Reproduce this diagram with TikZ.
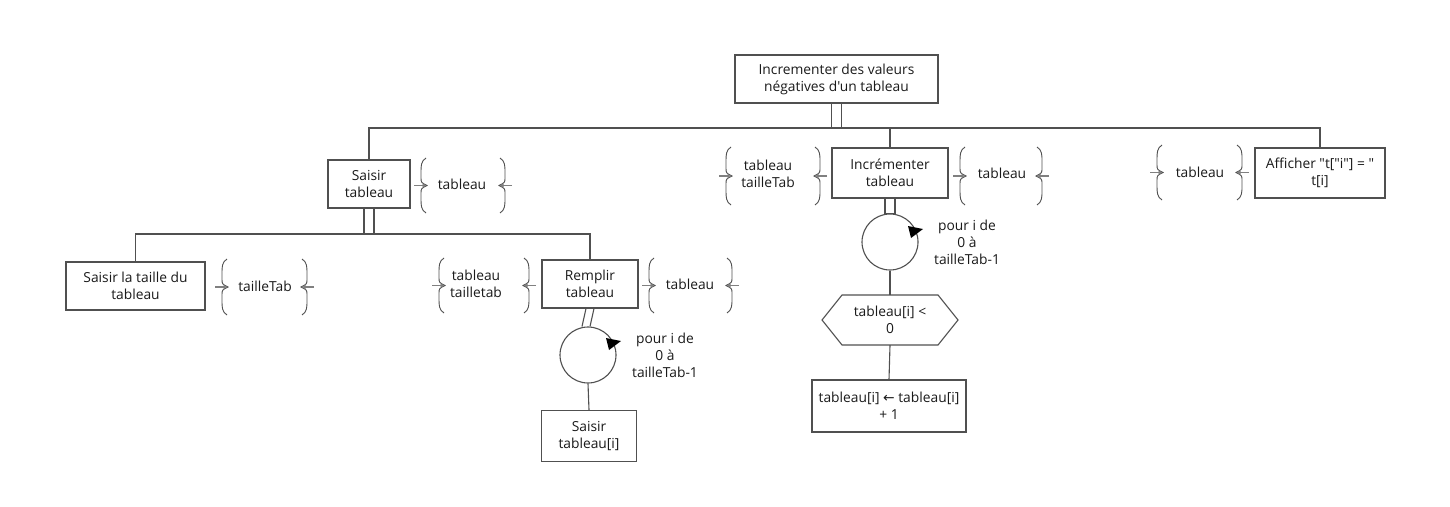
\documentclass[tikz,border=0pt]{standalone}
\usepackage{fontspec}
\newfontfamily\mainf{Open Sans}
\newfontfamily\symfont{DejaVu Sans}
\usetikzlibrary{arrows.meta}
\definecolor{ln}{HTML}{505050}
\definecolor{tx}{HTML}{1A1A1A}
\tikzset{
  box/.style={draw=ln, line width=1.1pt, align=center, text=tx, inner sep=2pt, font=\mainf\fontsize{13.8}{17}\selectfont},
  lbl/.style={align=center, text=tx, inner sep=1pt, font=\mainf\fontsize{13.8}{17}\selectfont},
  conn/.style={draw=ln, line width=1.1pt},
  brc/.style={draw=ln, line width=0.9pt},
  barr/.style={draw=gray, line width=1.8pt, -{Latex[length=3.5pt,width=4.5pt]}},
}
\newcommand\braceL[3]{%
  \pgfmathsetmacro\bmid{(#2+#3)/2}%
  \draw[brc] ({#1+3},#2) .. controls ({#1-2},{#2+3}) and ({#1-2},{#2+8}) .. ({#1-2},{#2+14}) -- ({#1-2},{\bmid-8}) .. controls ({#1-2},{\bmid-3}) .. ({#1+4},\bmid) .. controls ({#1-2},{\bmid+3}) .. ({#1-2},{\bmid+8}) -- ({#1-2},{#3-14}) .. controls ({#1-2},{#3-8}) and ({#1-2},{#3-3}) .. ({#1+3},#3);
  \draw[barr] ({#1-9},\bmid) -- ({#1+3},\bmid);}
\newcommand\braceR[3]{%
  \pgfmathsetmacro\bmid{(#2+#3)/2}%
  \draw[brc] ({#1-3},#2) .. controls ({#1+2},{#2+3}) and ({#1+2},{#2+8}) .. ({#1+2},{#2+14}) -- ({#1+2},{\bmid-8}) .. controls ({#1+2},{\bmid-3}) .. ({#1-4},\bmid) .. controls ({#1+2},{\bmid+3}) .. ({#1+2},{\bmid+8}) -- ({#1+2},{#3-14}) .. controls ({#1+2},{#3-8}) and ({#1+2},{#3-3}) .. ({#1-3},#3);
  \draw[barr] ({#1+9},\bmid) -- ({#1-3},\bmid);}
\begin{document}
\begin{tikzpicture}[x=1pt,y=-1pt]
\useasboundingbox[fill=white] (0,0) rectangle (1450,506);
% boxes
\node[box, minimum width=203pt, minimum height=48pt] (top) at (836.5,79) {Incrementer des valeurs\\négatives d'un tableau};
\node[box, minimum width=82pt, minimum height=48pt] (s1) at (369,184) {Saisir\\tableau};
\node[box, minimum width=116pt, minimum height=50pt] (s2) at (890,173) {Incrémenter\\tableau};
\node[box, minimum width=130pt, minimum height=50pt] (s3) at (1320,173) {Afficher "t["i"] = "\\t[i]};
\node[box, minimum width=139pt, minimum height=48pt] (t1) at (135.5,286) {Saisir la taille du\\tableau};
\node[box, minimum width=96pt, minimum height=48pt] (t2) at (590,284) {Remplir\\tableau};
\node[draw=ln, line width=1.1pt, circle, minimum size=56pt, inner sep=0pt] (c1) at (588,355) {};
\node[box, minimum width=95pt, minimum height=51pt] (t3) at (589,436) {Saisir\\tableau[i]};
\node[draw=ln, line width=1.1pt, circle, minimum size=56pt, inner sep=0pt] (c2) at (890,242) {};
\node[lbl, minimum width=96pt, minimum height=50pt, inner sep=0pt] (hx) at (890,320) {tableau[i] <\\0};
\draw[conn] (822,320) -- (842,295) -- (938,295) -- (958,320) -- (938,345) -- (842,345) -- cycle;
\node[box, minimum width=154pt, minimum height=52pt, inner sep=1pt] (t4) at (889,406) {tableau[i] {\symfont ←} tableau[i]\\+ 1};
% loop labels
\node[lbl] (l1) at (665,355) {pour i de\\0 à\\tailleTab-1};
\node[lbl] (l2) at (967,242) {pour i de\\0 à\\tailleTab-1};
% loop arrowheads
\fill[black] (621,341) -- (606,338) -- (609,350) -- cycle;
\fill[black] (923,229) -- (908,226) -- (911,238) -- cycle;
% brace groups
\node[lbl] (d1) at (462,184) {tableau};
\braceL{423}{158}{213}\braceR{503}{158}{213}
\node[lbl] (d2) at (265,286) {tailleTab};
\braceL{224}{259}{315}\braceR{305}{259}{315}
\node[lbl] (d3) at (476,284) {tableau\\tailletab};
\braceL{441}{258}{313}\braceR{527}{258}{313}
\node[lbl] (d4) at (690,284) {tableau};
\braceL{651}{258}{313}\braceR{730}{258}{313}
\node[lbl] (d5) at (768,174) {tableau\\tailleTab};
\braceL{728}{147}{205}\braceR{818}{147}{205}
\node[lbl] (d6) at (1002,173) {tableau};
\braceL{962}{147}{205}\braceR{1040}{147}{205}
\node[lbl] (d7) at (1200,172) {tableau};
\braceL{1159}{145}{200}\braceR{1240}{145}{200}
% connectors
\coordinate (b1) at (836.5,128);
\coordinate (b2) at (369,234);
\draw[conn] ([xshift=-5pt]top.south) -- ([xshift=-5pt]top.south |- b1) -- ([xshift=5pt]top.south |- b1) -- ([xshift=5pt]top.south);
\draw[conn] (s1.north) |- (s3.north |- b1) -- (s3.north);
\draw[conn] (s2.north) -- (s2.north |- b1);
\draw[conn] ([xshift=-5pt]s1.south) -- ([xshift=-5pt]s1.south |- b2) -- ([xshift=5pt]s1.south |- b2) -- ([xshift=5pt]s1.south);
\draw[conn] (t1.north) |- (t2.north |- b2) -- (t2.north);
\draw[conn] ([xshift=-4pt]t2.south) -- ([xshift=-6pt]c1.north);
\draw[conn] ([xshift=4pt]t2.south) -- ([xshift=2pt]c1.north);
\draw[conn] (c1.south) -- (t3.north);
\draw[conn] ([xshift=-5pt]s2.south) -- ([xshift=-5pt]c2.north) -- ([xshift=5pt]c2.north) -- ([xshift=5pt]s2.south);
\draw[conn] (c2.south) -- (hx.north);
\draw[conn] (hx.south) -- (t4.north);
\end{tikzpicture}
\end{document}
